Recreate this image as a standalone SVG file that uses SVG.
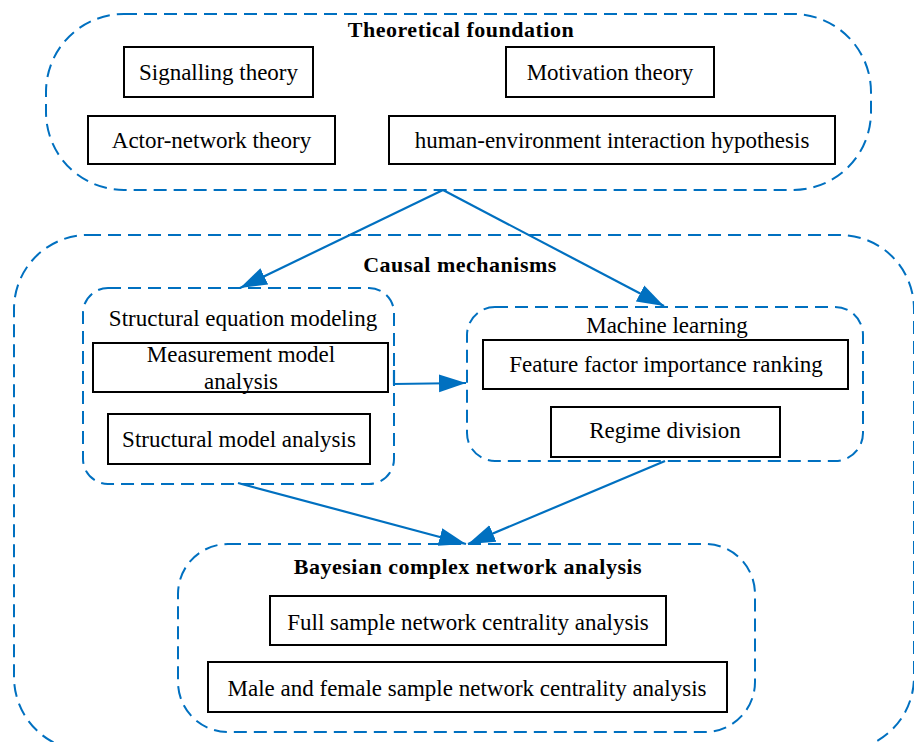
<svg xmlns="http://www.w3.org/2000/svg" width="914" height="742" viewBox="0 0 914 742">
<style>
.grp{fill:none;stroke:#0070C0;stroke-width:2;stroke-dasharray:13 7}
.box{fill:#fff;stroke:#000;stroke-width:2}
.t{font-family:"Liberation Serif","Times New Roman",serif;font-size:23px;fill:#000;text-anchor:middle}
.b{font-family:"Liberation Serif","Times New Roman",serif;font-size:22px;font-weight:bold;letter-spacing:0.5px;fill:#000;text-anchor:middle}
.c{fill:none;stroke:#0070C0;stroke-width:2.2}
</style>
<defs>
<marker id="ah" markerUnits="userSpaceOnUse" markerWidth="28" markerHeight="20" refX="27" refY="10" orient="auto" viewBox="0 0 28 20">
<path d="M0,1 L27,10 L0,19 z" fill="#0070C0"/>
</marker>
</defs>
<g id="theoretical">
<rect class="grp" x="46" y="14" width="825" height="176" rx="78" ry="78"/>
<text class="b" x="461" y="37">Theoretical foundation</text>
</g>
<g id="signalling">
<rect class="box" x="124" y="47" width="189" height="50"/>
<text class="t" x="218.5" y="80">Signalling theory</text>
</g>
<g id="motivation">
<rect class="box" x="506" y="47" width="208" height="50"/>
<text class="t" x="610" y="80">Motivation theory</text>
</g>
<g id="actor">
<rect class="box" x="88" y="116" width="247" height="48"/>
<text class="t" x="211.5" y="148">Actor-network theory</text>
</g>
<g id="human">
<rect class="box" x="389" y="116" width="446" height="48"/>
<text class="t" x="612" y="148">human-environment interaction hypothesis</text>
</g>
<g id="causal">
<rect class="grp" x="14" y="235" width="900" height="516" rx="74" ry="74"/>
<text class="b" x="460" y="272">Causal mechanisms</text>
</g>
<g id="sem">
<rect class="grp" x="83" y="288" width="311" height="196" rx="25" ry="25"/>
<text class="t" x="243" y="326">Structural equation modeling</text>
</g>
<g id="measurement">
<rect class="box" x="93" y="343" width="295" height="49"/>
<text class="t" x="241" y="362">Measurement model</text>
<text class="t" x="241" y="389">analysis</text>
</g>
<g id="structural">
<rect class="box" x="108" y="414" width="262" height="50"/>
<text class="t" x="239" y="447">Structural model analysis</text>
</g>
<g id="ml">
<rect class="grp" x="467" y="307" width="396" height="154" rx="28" ry="28"/>
<text class="t" x="667" y="333">Machine learning</text>
</g>
<g id="feature">
<rect class="box" x="483" y="340" width="365" height="49"/>
<text class="t" x="666" y="372">Feature factor importance ranking</text>
</g>
<g id="regime">
<rect class="box" x="551" y="407" width="229" height="50"/>
<text class="t" x="665" y="438">Regime division</text>
</g>
<g id="bayesian">
<rect class="grp" x="178" y="544" width="577" height="188" rx="50" ry="50"/>
<text class="b" x="468" y="574">Bayesian complex network analysis</text>
</g>
<g id="full">
<rect class="box" x="270" y="596" width="396" height="49"/>
<text class="t" x="468" y="630">Full sample network centrality analysis</text>
</g>
<g id="malefemale">
<rect class="box" x="208" y="662" width="519" height="50"/>
<text class="t" x="467" y="696">Male and female sample network centrality analysis</text>
</g>
<g id="connectors">
<line class="c" x1="443" y1="190" x2="240" y2="288" marker-end="url(#ah)"/>
<line class="c" x1="443" y1="190" x2="664" y2="306" marker-end="url(#ah)"/>
<path class="c" d="M394,370 L394,384 L466,383" marker-end="url(#ah)"/>
<line class="c" x1="238" y1="483" x2="466" y2="544" marker-end="url(#ah)"/>
<line class="c" x1="665" y1="461" x2="468" y2="544" marker-end="url(#ah)"/>
</g>
</svg>
